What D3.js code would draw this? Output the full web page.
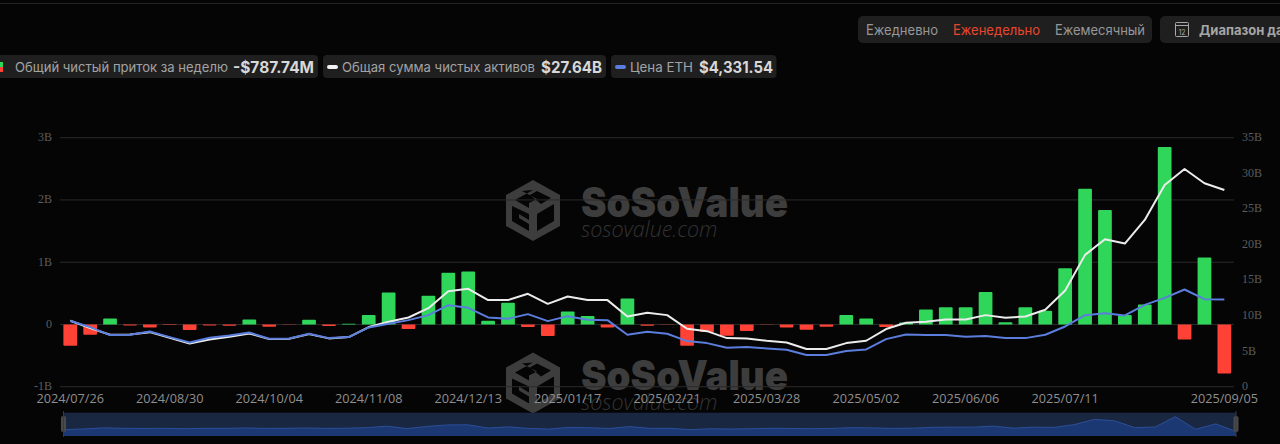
<!DOCTYPE html>
<html><head><meta charset="utf-8">
<script src="https://cdn.jsdelivr.net/npm/d3@7/dist/d3.min.js"></script>
<style>
html,body{margin:0;padding:0;background:#050505;overflow:hidden}
svg{display:block}
text{font-family:Inter,"Noto Sans",sans-serif}
</style></head><body>
<svg id="c" width="1280" height="444"></svg>
<script>
const dates=["2024/07/26","2024/08/02","2024/08/09","2024/08/16","2024/08/23","2024/08/30","2024/09/06","2024/09/13","2024/09/20","2024/09/27","2024/10/04","2024/10/11","2024/10/18","2024/10/25","2024/11/01","2024/11/08","2024/11/15","2024/11/22","2024/11/29","2024/12/06","2024/12/13","2024/12/20","2024/12/27","2025/01/03","2025/01/10","2025/01/17","2025/01/24","2025/01/31","2025/02/07","2025/02/14","2025/02/21","2025/02/28","2025/03/07","2025/03/14","2025/03/21","2025/03/28","2025/04/04","2025/04/11","2025/04/18","2025/04/25","2025/05/02","2025/05/09","2025/05/16","2025/05/23","2025/05/30","2025/06/06","2025/06/13","2025/06/20","2025/06/27","2025/07/04","2025/07/11","2025/07/18","2025/07/25","2025/08/01","2025/08/08","2025/08/15","2025/08/22","2025/08/29","2025/09/05"];
const netFlow=[-0.342,-0.166,0.096,-0.015,-0.05,-0.01,-0.09,-0.015,-0.02,0.08,-0.035,-0.005,0.075,-0.025,0.01,0.15,0.513,-0.075,0.46,0.83,0.85,0.058,0.348,-0.04,-0.187,0.21,0.134,-0.05,0.417,-0.02,-0.005,-0.342,-0.123,-0.18,-0.107,-0.005,-0.05,-0.085,-0.035,0.15,0.096,-0.04,0.03,0.24,0.278,0.278,0.52,0.037,0.278,0.22,0.904,2.18,1.84,0.15,0.32,2.85,-0.24,1.075,-0.788];
const netAssets=[9.27,8.24,7.3,7.35,7.67,6.88,6.08,6.64,7.02,7.49,6.69,6.74,7.39,6.79,6.97,8.38,9.12,9.73,11.04,13.43,13.76,12.17,12.17,13.06,11.65,12.68,12.2,12.17,9.87,10.39,10.06,8.14,7.81,6.83,6.79,6.46,6.22,5.29,5.29,6.13,6.46,8.1,8.98,9.12,9.45,9.45,10.06,9.69,9.87,10.81,13.52,18.53,20.73,20.12,23.44,28.36,30.6,28.6,27.64];
const ethPrice=[3273,2959,2562,2579,2744,2463,2198,2430,2546,2694,2380,2397,2628,2413,2463,2942,3124,3306,3554,4050,3918,3438,3372,3604,3256,3504,3322,3306,2579,2727,2628,2265,2165,1934,1967,1901,1835,1570,1570,1769,1851,2364,2595,2562,2562,2480,2513,2413,2413,2579,2992,3554,3653,3537,4066,4413,4827,4347,4331.54];
const xTicks=["2024/07/26","2024/08/30","2024/10/04","2024/11/08","2024/12/13","2025/01/17","2025/02/21","2025/03/28","2025/05/02","2025/06/06","2025/07/11","2025/09/05"];
const leftTicks=[-1,0,1,2,3];
const rightTicks=[0,5,10,15,20,25,30,35];
const filters=["Ежедневно","Еженедельно","Ежемесячный"];
const legendNames=["Общий чистый приток за неделю","Общая сумма чистых активов","Цена ETH"];
const legendValues=["-$787.74M","$27.64B","$4,331.54"];

const svg=d3.select("#c");
const green="#2fd65a",red="#ff4136",white="#ececec",blue="#5b7ddc";
const x=d3.scaleBand().domain(dates).range([60.3,1234.3]).paddingInner(0.31).paddingOuter(0.155);
const yL=d3.scaleLinear().domain([-1,3]).range([386.7,137.7]);
const yR=d3.scaleLinear().domain([0,35]).range([386.7,137.7]);
const yP=d3.scaleLinear().domain([0,12366]).range([386.7,137.7]);
const cx=d=>x(d)+x.bandwidth()/2;

svg.append("rect").attr("x",0).attr("y",3).attr("width",1280).attr("height",1).attr("fill","#232323");

function watermark(dy){
  const g=svg.append("g").attr("transform",`translate(0,${dy})`);
  const col="#3d3d3d";
  g.append("path").attr("fill",col).attr("fill-rule","evenodd")
   .attr("d","M533 180L560 195V226L533 241L506 226V195Z M533 190L515 200L529 208V203L537 199L522 191Z M512 206V221L529 231V224L519 218V214L529 220V214Z M537 214V231L554 221V204Z M541 204L551 198L537 191L530 195Z");
  g.append("path").attr("fill","#050505").attr("d","M543 215L549 212V220L543 223Z");
  g.append("text").attr("x",581).attr("y",217).attr("font-size",41).attr("font-weight",900).attr("textLength",207).attr("lengthAdjust","spacingAndGlyphs").attr("fill",col).style("font-family","Inter,sans-serif").text("SoSoValue");
  g.append("text").attr("x",581).attr("y",237).attr("font-size",21.5).attr("font-style","italic").attr("font-weight",300).attr("fill","#333").style("font-family","'Open Sans',sans-serif").text("sosovalue.com");
}
watermark(0);watermark(172.5);

svg.append("g").selectAll("line").data(leftTicks).join("line")
  .attr("x1",60).attr("x2",1234).attr("y1",d=>yL(d)).attr("y2",d=>yL(d))
  .attr("stroke","#2b2b2b").attr("stroke-width",1);

const axL=svg.append("g").attr("transform","translate(60,0)")
  .call(d3.axisLeft(yL).tickValues(leftTicks).tickSize(0).tickPadding(8).tickFormat(d=>d===0?"0":d+"B"));
const axR=svg.append("g").attr("transform","translate(1234,0)")
  .call(d3.axisRight(yR).tickValues(rightTicks).tickSize(0).tickPadding(8).tickFormat(d=>d===0?"0":d+"B"));
[axL,axR].forEach(a=>{a.select(".domain").remove();
  a.selectAll("text").attr("fill","#5c5c5c").style("font-family","'Liberation Serif',serif").style("font-size","12px").attr("dy","0.25em");});
const axB=svg.append("g").attr("transform","translate(0,387)")
  .call(d3.axisBottom(x).tickValues(xTicks).tickSize(0).tickPadding(7));
axB.select(".domain").remove();
axB.selectAll("text").attr("fill","#8f8f8f").style("font-family","'Open Sans',sans-serif").style("font-size","12.7px");

svg.append("g").selectAll("path").data(dates).join("path")
  .attr("fill",(d,i)=>netFlow[i]>=0?green:red)
  .attr("d",(d,i)=>{
    const v=netFlow[i],x0=x(d),w=x.bandwidth(),y0=yL(0),y1=yL(v);
    const r=Math.min(1,Math.abs(y1-y0));
    return v>=0
     ?`M${x0} ${y0}V${y1+r}Q${x0} ${y1} ${x0+r} ${y1}H${x0+w-r}Q${x0+w} ${y1} ${x0+w} ${y1+r}V${y0}Z`
     :`M${x0} ${y0}V${y1-r}Q${x0} ${y1} ${x0+r} ${y1}H${x0+w-r}Q${x0+w} ${y1} ${x0+w} ${y1-r}V${y0}Z`;
  });

const lineA=d3.line().x(cx).y((d,i)=>yR(netAssets[i]));
const lineP=d3.line().x(cx).y((d,i)=>yP(ethPrice[i]));
svg.append("path").attr("d",lineA(dates)).attr("fill","none").attr("stroke",white).attr("stroke-width",2).attr("stroke-linejoin","round");
svg.append("path").attr("d",lineP(dates)).attr("fill","none").attr("stroke",blue).attr("stroke-width",2).attr("stroke-linejoin","round");

const mx=d3.scalePoint().domain(dates).range([63.5,1236]);
const my=d3.scaleLinear().domain([-1.9,2.85]).range([436,416.7]);
svg.append("rect").attr("x",63.5).attr("y",412.7).attr("width",1172.5).attr("height",23.3).attr("fill","#1a2741");
const area=d3.area().x(d=>mx(d)).y0(436).y1((d,i)=>my(netFlow[i]));
const mline=d3.line().x(d=>mx(d)).y((d,i)=>my(netFlow[i]));
svg.append("path").attr("d",area(dates)).attr("fill","#1c3872");
svg.append("path").attr("d",mline(dates)).attr("fill","none").attr("stroke","#2b4f9a").attr("stroke-width",1);
[63.5,1236].forEach(p=>{
  svg.append("rect").attr("x",p-2.5).attr("y",416).attr("width",5).attr("height",16).attr("rx",2).attr("fill","#4a4a4a");
  svg.append("rect").attr("x",p-0.5).attr("y",411).attr("width",1).attr("height",26).attr("fill","#3a3a3a");
});

svg.append("rect").attr("x",858).attr("y",16).attr("width",294).attr("height",27).attr("rx",5).attr("fill","#1f1f20");
const fx=[866,953,1055];
svg.append("g").selectAll("text").data(filters).join("text")
  .attr("x",(d,i)=>fx[i]).attr("y",35).attr("font-size",14).attr("textLength",(d,i)=>[72,87,90][i]).attr("lengthAdjust","spacingAndGlyphs")
  .attr("fill",(d,i)=>i===1?"#e8472d":"#979797").text(d=>d);
svg.append("rect").attr("x",1160).attr("y",16).attr("width",130).attr("height",27).attr("rx",5).attr("fill","#1f1f20");
const cal=svg.append("g").attr("fill","none").attr("stroke","#a8a8a8").attr("stroke-width",1);
cal.append("rect").attr("x",1175.5).attr("y",22.5).attr("width",13).attr("height",14).attr("rx",1);
cal.append("line").attr("x1",1175.5).attr("x2",1188.5).attr("y1",25.5).attr("y2",25.5);
svg.append("text").attr("x",1182).attr("y",34.5).attr("text-anchor","middle").attr("font-size",7).attr("fill","#a8a8a8").text("12");
svg.append("text").attr("x",1199).attr("y",35).attr("font-size",13).attr("font-weight",700).attr("fill","#a6a6a6").text("Диапазон дат");

const pills=[[-10,318],[323,606],[611,776.5]];
svg.append("g").selectAll("rect").data(pills).join("rect")
  .attr("x",d=>d[0]).attr("y",55).attr("width",d=>d[1]-d[0]).attr("height",23).attr("rx",4).attr("fill","#1f1f20");
svg.append("rect").attr("x",0).attr("y",62).attr("width",3).attr("height",5).attr("fill",green);
svg.append("rect").attr("x",0).attr("y",67).attr("width",3).attr("height",5).attr("fill",red);
svg.append("rect").attr("x",327).attr("y",65).attr("width",11).attr("height",4).attr("rx",2).attr("fill","#f2f2f2");
svg.append("rect").attr("x",615).attr("y",65).attr("width",11).attr("height",4).attr("rx",2).attr("fill",blue);
const nameX=[15,342,630],nameW=[213,193,63],valX=[233,541,699],valW=[81,61,74];
svg.append("g").selectAll("text").data(legendNames).join("text")
  .attr("x",(d,i)=>nameX[i]).attr("y",72).attr("font-size",13.5).attr("textLength",(d,i)=>nameW[i]).attr("lengthAdjust","spacingAndGlyphs")
  .attr("fill","#a3a3a3").text(d=>d);
svg.append("g").selectAll("text").data(legendValues).join("text")
  .attr("x",(d,i)=>valX[i]).attr("y",72.5).attr("font-size",15.5).attr("font-weight",700).attr("textLength",(d,i)=>valW[i]).attr("lengthAdjust","spacingAndGlyphs")
  .attr("fill","#d8d8d8").text(d=>d);
</script>
</body></html>
